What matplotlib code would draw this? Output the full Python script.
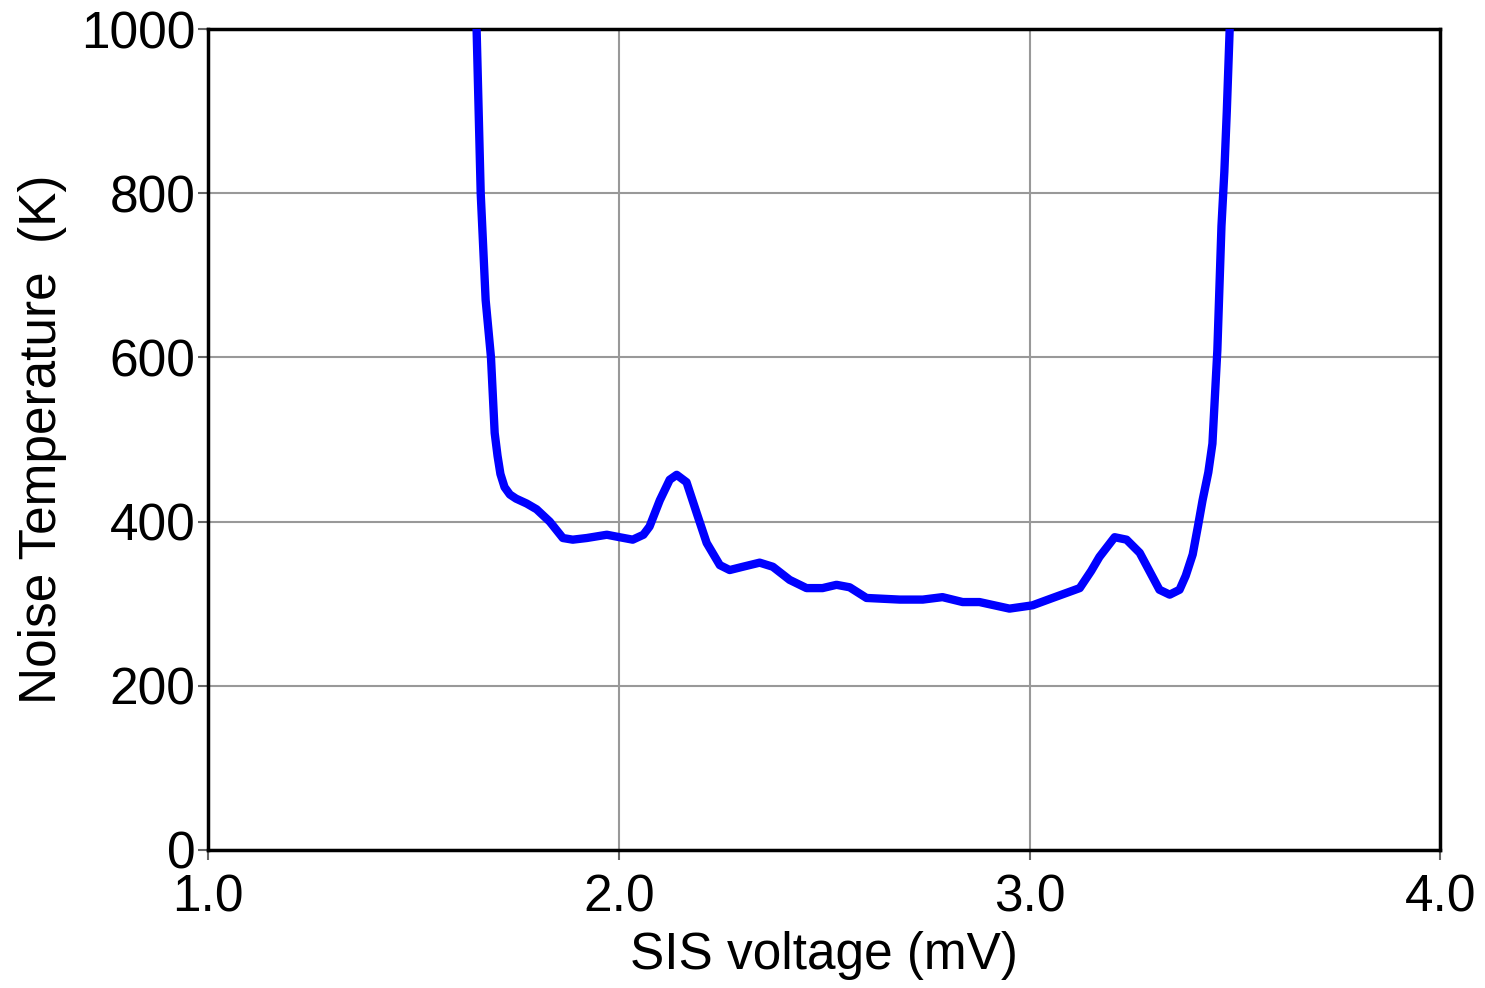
import numpy as np
import matplotlib.pyplot as plt

plt.rcParams['font.family'] = ['Liberation Sans', 'DejaVu Sans']

# SIS電圧 (mV) と雑音温度 (K)、図から読み取り
voltage = [1.650, 1.654, 1.664, 1.676, 1.689, 1.698, 1.705, 1.712, 1.722, 1.735,
           1.750, 1.776, 1.800, 1.832, 1.864,
           1.888, 1.922, 1.971, 2.002, 2.034, 2.060, 2.075, 2.100, 2.124, 2.141, 2.165,
           2.190, 2.214, 2.246, 2.270, 2.302, 2.343, 2.375, 2.416, 2.457, 2.496,
           2.530, 2.562, 2.603, 2.684, 2.740, 2.788, 2.837, 2.878, 2.951, 3.007,
           3.056, 3.122, 3.150, 3.170, 3.207, 3.236, 3.268, 3.316, 3.341, 3.365, 3.380,
           3.397, 3.410, 3.421, 3.435, 3.445, 3.457, 3.467, 3.474, 3.480, 3.487, 3.490]
noise_temp = [1050, 1000, 800, 670, 600, 508, 480, 458, 442, 433,
              428, 422, 415, 400, 380,
              378, 380, 384, 381, 378, 384, 394, 426, 451, 457, 448,
              410, 374, 347, 341, 345, 350, 345, 329, 319, 319,
              323, 320, 307, 305, 305, 308, 302, 302, 294, 298,
              307, 319, 340, 357, 381, 378, 362, 317, 311, 317, 334,
              360, 395, 426, 460, 495, 609, 760, 826, 900, 1000, 1050]

x_ticks = [1.0, 2.0, 3.0, 4.0]
y_ticks = [0, 200, 400, 600, 800, 1000]

fig = plt.figure(figsize=(14.85, 9.88), dpi=100)
ax = fig.add_axes([0.140, 0.1397, 0.830, 0.8309])

ax.plot(voltage, noise_temp, color='#0000ff', lw=6, solid_joinstyle='round',
        solid_capstyle='round', zorder=3)

ax.set_xlim(1.0, 4.0)
ax.set_ylim(0, 1000)
ax.set_xticks(x_ticks)
ax.set_xticklabels([f'{v:.1f}' for v in x_ticks])
ax.set_yticks(y_ticks)
ax.grid(True, color='#999999', lw=1.5)
ax.tick_params(direction='out', length=7, width=1.5, color='#666666',
               labelsize=37)
ax.tick_params(axis='x', pad=10)
ax.tick_params(axis='y', pad=2)

for s in ax.spines.values():
    s.set_linewidth(2.5)
    s.set_color('black')

ax.set_xlabel('SIS voltage (mV)', fontsize=37, labelpad=6)
ax.set_ylabel('Noise Temperature  (K)', fontsize=37, labelpad=10)

fig.savefig('out.png', dpi=100)
